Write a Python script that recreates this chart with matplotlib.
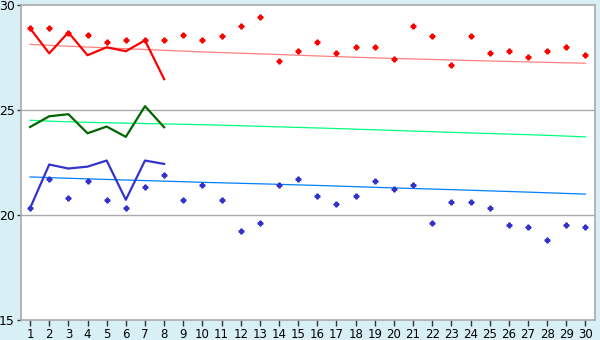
import numpy as np
import matplotlib
matplotlib.use('Agg')
import matplotlib.pyplot as plt

days = list(range(1, 31))

# scattered daily points
red_pts = [28.9, 28.9, 28.7, 28.6, 28.24, 28.33, 28.33, 28.33, 28.6, 28.33,
           28.52, 29.0, 29.43, 27.33, 27.8, 28.24, 27.71, 28.0, 28.0, 27.43,
           29.0, 28.52, 27.14, 28.52, 27.71, 27.8, 27.52, 27.8, 28.0, 27.62]
blue_pts = [20.33, 21.71, 20.81, 21.62, 20.71, 20.33, 21.33, 21.9, 20.71, 21.43,
            20.71, 19.24, 19.62, 21.43, 21.71, 20.9, 20.52, 20.9, 21.62, 21.24,
            21.43, 19.62, 20.62, 20.62, 20.33, 19.52, 19.43, 18.81, 19.52, 19.43]

# thick lines, first 8 days
line_days = list(range(1, 9))
red_line = [28.9, 27.71, 28.71, 27.62, 28.0, 27.81, 28.33, 26.48]
green_line = [24.2, 24.71, 24.81, 23.9, 24.22, 23.73, 25.19, 24.19]
blue_line = [20.33, 22.41, 22.22, 22.31, 22.6, 20.73, 22.6, 22.44]

# thin trend lines
trend_days = [1, 2.5, 5, 10.5, 13.5, 16.5, 19.5, 23.5, 27.5, 30]
red_trend = [28.14, 28.07, 27.97, 27.76, 27.67, 27.57, 27.48, 27.38, 27.29, 27.24]
green_trend = [24.52, 24.46, 24.4, 24.3, 24.22, 24.14, 24.05, 23.93, 23.82, 23.73]
blue_trend = [21.82, 21.77, 21.7, 21.55, 21.48, 21.4, 21.31, 21.2, 21.08, 21.0]

bg = '#d9eff6'
fig = plt.figure(figsize=(6, 3.4), dpi=100, facecolor=bg)
ax = fig.add_axes([20.5 / 600, 1 - 320 / 340, (595 - 20.5) / 600, (320 - 5.3) / 340])
ax.set_facecolor('white')

for y in [20, 25]:
    ax.axhline(y, color='#aaaaaa', lw=1, zorder=1)

ax.plot(trend_days, red_trend, color='#ff8080', lw=0.9, zorder=2)
ax.plot(trend_days, green_trend, color='#00ff80', lw=0.9, zorder=2)
ax.plot(trend_days, blue_trend, color='#0080ff', lw=0.9, zorder=2)

ax.plot(line_days, red_line, color='#ff0000', lw=1.6, zorder=3)
ax.plot(line_days, green_line, color='#006600', lw=1.6, zorder=3)
ax.plot(line_days, blue_line, color='#3333cc', lw=1.6, zorder=3)

ax.plot(days, red_pts, ls='none', marker='P', ms=3.4, color='#ff0000',
        mec='#ff0000', zorder=4)
ax.plot(days, blue_pts, ls='none', marker='P', ms=3.4, color='#3333cc',
        mec='#3333cc', zorder=4)

ax.set_xlim(0.5, 30.5)
ax.set_ylim(15, 30)
ax.set_xticks(days)
ax.set_yticks([15, 20, 25, 30])
for s in ax.spines.values():
    s.set_color('#aaaaaa')
    s.set_linewidth(1.2)
ax.tick_params(axis='x', direction='out', length=4, width=1, color='#333333',
               labelsize=8.5, pad=2)
ax.tick_params(axis='y', direction='out', length=3, width=1, color='#333333',
               labelsize=9, pad=1)
for lab in ax.get_xticklabels() + ax.get_yticklabels():
    lab.set_fontfamily('DejaVu Sans')

fig.savefig('out.png', dpi=100, facecolor=bg)
